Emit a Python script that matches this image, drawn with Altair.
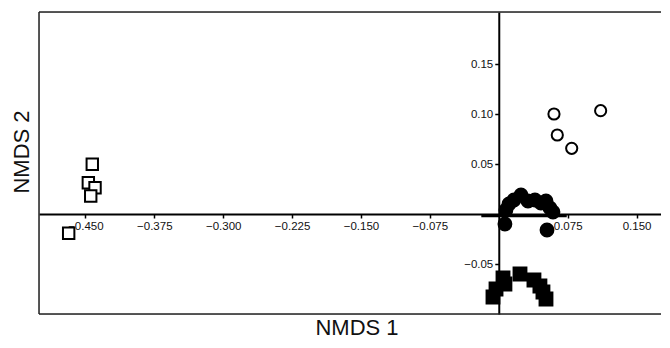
import altair as alt
import pandas as pd

# Open squares
sq_open_x = [-0.4425, -0.4468, -0.4395, -0.4442, -0.4682]
sq_open_y = [0.0497, 0.0313, 0.0263, 0.0180, -0.0193]
# Open circles
ci_open_x = [0.0601, 0.0637, 0.0794, 0.1109]
ci_open_y = [0.1000, 0.0790, 0.0657, 0.1033]
# Filled circles
ci_fill_x = [0.0067, 0.0078, 0.0111, 0.0165, 0.0242, 0.0318, 0.0394, 0.0459, 0.0514, 0.0557, 0.0590, 0.0525]
ci_fill_y = [-0.010, 0.004, 0.010, 0.014, 0.019, 0.013, 0.014, 0.011, 0.013, 0.006, 0.002, -0.016]
# Filled squares
sq_fill_x = [-0.0063, -0.0030, 0.0046, 0.0067, 0.0231, 0.0383, 0.0448, 0.0481, 0.0514]
sq_fill_y = [-0.083, -0.075, -0.064, -0.070, -0.060, -0.066, -0.072, -0.078, -0.085]
# short thick segment near the origin
seg_x = [-0.019]
seg_x2 = [0.074]
seg_y = [-0.002]

x_ticks = [-0.45, -0.375, -0.3, -0.225, -0.15, -0.075, 0.075, 0.15]
y_ticks = [-0.05, 0.05, 0.10, 0.15]

W, H = 622, 302
x_dom = [-0.5005, 0.1766]
y_dom = [-0.100, 0.202]
x_zero_px = (0 - x_dom[0]) / (x_dom[1] - x_dom[0]) * W
y_zero_px = (y_dom[1] - 0) / (y_dom[1] - y_dom[0]) * H

FONT = "Liberation Sans"

xscale = alt.Scale(domain=x_dom, nice=False, zero=False)
yscale = alt.Scale(domain=y_dom, nice=False, zero=False)

xaxis = alt.Axis(orient="bottom", offset=-(H - y_zero_px), values=x_ticks, format=".3f",
                 title=None, grid=False, domainColor="black", domainWidth=2,
                 tickColor="black", tickWidth=1.5, tickSize=4, labelFont=FONT,
                 labelFontSize=11.5, labelColor="#111", labelPadding=2, labelFlush=False)
yaxis = alt.Axis(orient="left", offset=-x_zero_px, values=y_ticks, format=".2f",
                 title=None, grid=False, domainColor="black", domainWidth=2,
                 tickColor="black", tickWidth=1.5, tickSize=4, labelFont=FONT,
                 labelFontSize=11.5, labelColor="#111", labelPadding=2, labelFlush=False)

def pts(xs, ys):
    return pd.DataFrame({"x": xs, "y": ys})

def layer(df, shape, filled, size):
    return alt.Chart(df).mark_point(
        shape=shape, filled=filled, size=size,
        fill="black" if filled else "white",
        stroke="black", strokeWidth=2, opacity=1
    ).encode(
        x=alt.X("x:Q", scale=xscale, axis=xaxis),
        y=alt.Y("y:Q", scale=yscale, axis=yaxis),
    )

seg = alt.Chart(pd.DataFrame({"x": seg_x, "x2": seg_x2, "y": seg_y})).mark_rule(
    color="black", strokeWidth=2.5
).encode(
    x=alt.X("x:Q", scale=xscale, axis=xaxis), x2="x2:Q",
    y=alt.Y("y:Q", scale=yscale, axis=yaxis),
)

frame_top = alt.Chart(pd.DataFrame({"a": [0]})).mark_rule(color="#222", strokeWidth=1.5).encode(
    x=alt.value(0), x2=alt.value(W + 20), y=alt.value(0))
frame_bot = alt.Chart(pd.DataFrame({"a": [0]})).mark_rule(color="#222", strokeWidth=1.5).encode(
    x=alt.value(0), x2=alt.value(W + 20), y=alt.value(H))
frame_left = alt.Chart(pd.DataFrame({"a": [0]})).mark_rule(color="#222", strokeWidth=1.5).encode(
    x=alt.value(0), y=alt.value(0), y2=alt.value(H))

t1 = alt.Chart(pd.DataFrame({"t": ["NMDS 1"]})).mark_text(
    font=FONT, fontSize=22, color="#111", baseline="alphabetic", align="center"
).encode(text="t:N", x=alt.value(318), y=alt.value(H + 21))
t2 = alt.Chart(pd.DataFrame({"t": ["NMDS 2"]})).mark_text(
    font=FONT, fontSize=22, color="#111", baseline="middle", align="center", angle=270
).encode(text="t:N", x=alt.value(-17), y=alt.value(140))

chart = alt.layer(
    frame_top, frame_bot, frame_left, seg,
    layer(pts(sq_open_x, sq_open_y), "square", False, 130),
    layer(pts(ci_open_x, ci_open_y), "circle", False, 125),
    layer(pts(ci_fill_x, ci_fill_y), "circle", True, 165),
    layer(pts(sq_fill_x, sq_fill_y), "square", True, 165),
    t1, t2,
).properties(
    width=W, height=H,
    autosize=alt.AutoSizeParams(type="none"),
    padding={"left": 31, "top": 4, "right": 0, "bottom": 26},
).configure_view(stroke=None).configure(background="white")

chart.save("out.html", embed_options={"renderer": "svg", "actions": False})
